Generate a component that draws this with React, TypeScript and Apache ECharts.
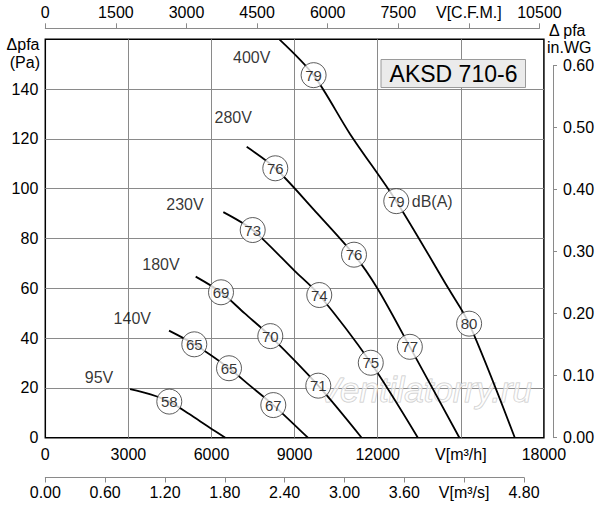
import React, { useEffect, useRef } from 'react';
import * as echarts from 'echarts';

const FONT = '"Liberation Sans", Arial, Helvetica, sans-serif';

// Fan curves: [airflow m³/h, static pressure Pa]
const curve95V = [[3060, 19.5], [3800, 17.4], [4476, 14.5], [5200, 9.5], [5900, 4.3], [6500, 0]];
const curve140V = [[4466, 43], [5379, 37.5], [6632, 27.9], [7400, 20.8], [8231, 13.1], [9480, 0]];
const curve180V = [[5429, 64.7], [6343, 58.4], [7200, 49.9], [8123, 40.8], [9855, 20.9], [11420, 0]];
const curve230V = [[6427, 90.6], [7487, 83.4], [9000, 67.0], [9891, 57.3], [11750, 30.1], [13450, 0]];
const curve280V = [[7270, 116.8], [8303, 108.2], [9700, 91.5], [11144, 73.5], [11986, 60], [13160, 36.5], [14950, 0]];
const curve400V = [[8450, 160], [9686, 145.6], [11000, 122], [12670, 95], [14549, 60], [15300, 45.8], [16950, 0]];

// Noise level marks: [m³/h, Pa, dB(A)]
const dbMarks = [
  [4476, 14.5, 58],
  [5379, 37.5, 65], [6632, 27.9, 65], [8231, 13.1, 67],
  [6343, 58.4, 69], [8123, 40.8, 70], [9855, 20.9, 71],
  [7487, 83.4, 73], [9891, 57.3, 74], [11750, 30.1, 75],
  [8303, 108.2, 76], [11144, 73.5, 76], [13160, 36.5, 77],
  [9686, 145.6, 79], [12670, 95, 79], [15300, 45.8, 80],
];
const dbUnitPoint = [12670, 95];

// Voltage labels: [text, m³/h, Pa]
const voltageLabels: [string, number, number][] = [
  ['95V', 1939, 24.2],
  ['140V', 3140, 47.9],
  ['180V', 4177, 69.4],
  ['230V', 5043, 93.8],
  ['280V', 6785, 128.5],
  ['400V', 7450, 152.6],
];

// Tick labels
const m3hTicks = ['0', '3000', '6000', '9000', '12000', 'V[m³/h]', '18000'];
const cfmTicks = ['0', '1500', '3000', '4500', '6000', '7500', 'V[C.F.M.]', '10500'];
const m3sTicks = ['0.00', '0.60', '1.20', '1.80', '2.40', '3.00', '3.60', 'V[m³/s]', '4.80'];
const paTicks = ['0', '20', '40', '60', '80', '100', '120', '140', ''];
const inwgTicks = ['0.00', '0.10', '0.20', '0.30', '0.40', '0.50', '0.60'];

const M3H_MAX = 18000;
const PA_MAX = 160;
const CFM_TO_M3H = 1.69901;
const INWG_TO_PA = 249.089;

const PLOT_L = 45.3;
const PLOT_T = 39.3;
const PLOT_W = 498.6;
const PLOT_H = 398.4;

export default function App() {
  const ref = useRef<HTMLDivElement>(null);
  useEffect(() => {
    document.body.style.margin = '0';
    const chart = echarts.init(ref.current!, null, { renderer: 'svg' });

    const pxPerM3h = PLOT_W / M3H_MAX;
    const pxPerPa = PLOT_H / PA_MAX;
    const cfmWidth = 10500 * CFM_TO_M3H * pxPerM3h;
    const m3sWidth = 4.8 * 3600 * pxPerM3h;
    const inwgHeight = 0.6 * INWG_TO_PA * pxPerPa;
    const plotBottom = PLOT_T + PLOT_H;

    const labelText = { color: '#000', fontFamily: FONT, fontSize: 16 };
    const grayLine = { color: '#8a8a8a', width: 1 };

    const curveSeries = [curve95V, curve140V, curve180V, curve230V, curve280V, curve400V].map((d, i) => ({
      type: 'line',
      name: 'c' + i,
      xAxisIndex: 0,
      yAxisIndex: 0,
      data: d,
      smooth: 0.3,
      symbol: 'none',
      lineStyle: { color: '#000', width: 1.8 },
      z: 3,
    }));

    const option: any = {
      animation: false,
      backgroundColor: '#fff',
      textStyle: { fontFamily: FONT },
      grid: [
        { left: PLOT_L, top: PLOT_T, width: PLOT_W, height: PLOT_H, show: true, borderColor: '#000', borderWidth: 1.5, backgroundColor: '#fff' },
        { left: PLOT_L, top: 27.3, width: cfmWidth, height: 1 },
        { left: PLOT_L, top: 476.5, width: m3sWidth, height: 1 },
        { left: 553, top: plotBottom - inwgHeight, width: 1, height: inwgHeight },
      ],
      xAxis: [
        {
          gridIndex: 0, type: 'value', min: 0, max: M3H_MAX, interval: 3000, position: 'bottom',
          axisLine: { show: false }, axisTick: { show: false },
          axisLabel: { ...labelText, margin: 9, formatter: (_v: number, i: number) => m3hTicks[i] ?? '' },
          splitLine: { show: true, showMinLine: false, showMaxLine: false, lineStyle: grayLine },
        },
        {
          gridIndex: 1, type: 'value', min: 0, max: 10500, interval: 1500, position: 'top',
          axisLine: { show: true, lineStyle: grayLine },
          axisTick: { show: true, length: 5, lineStyle: grayLine },
          axisLabel: { ...labelText, margin: 7, formatter: (_v: number, i: number) => cfmTicks[i] ?? '' },
          splitLine: { show: false },
        },
        {
          gridIndex: 2, type: 'value', min: 0, max: 4.8, interval: 0.6, position: 'bottom',
          axisLine: { show: true, lineStyle: grayLine },
          axisTick: { show: true, length: 5, lineStyle: grayLine },
          axisLabel: { ...labelText, margin: 7, formatter: (_v: number, i: number) => m3sTicks[i] ?? '' },
          splitLine: { show: false },
        },
        { gridIndex: 3, type: 'value', min: 0, max: 1, show: false },
      ],
      yAxis: [
        {
          gridIndex: 0, type: 'value', min: 0, max: PA_MAX, interval: 20,
          axisLine: { show: false }, axisTick: { show: false },
          axisLabel: { ...labelText, margin: 7, formatter: (_v: number, i: number) => paTicks[i] ?? '' },
          splitLine: { show: true, showMinLine: false, showMaxLine: false, lineStyle: grayLine },
        },
        { gridIndex: 1, type: 'value', min: 0, max: 1, show: false },
        { gridIndex: 2, type: 'value', min: 0, max: 1, show: false },
        {
          gridIndex: 3, type: 'value', min: 0, max: 0.6, interval: 0.1, position: 'right',
          axisLine: { show: true, lineStyle: grayLine },
          axisTick: { show: true, length: 4, lineStyle: grayLine },
          axisLabel: { ...labelText, margin: 9, formatter: (_v: number, i: number) => inwgTicks[i] ?? '' },
          splitLine: { show: false },
        },
      ],
      graphic: [
        {
          type: 'text', z: 1, x: 425, y: 389,
          style: {
            text: 'Ventilatorry.ru', fontFamily: FONT, fontSize: 35, fontStyle: 'italic',
            fill: 'rgba(255,255,255,0.55)', stroke: '#c9c9c9', lineWidth: 1,
            textAlign: 'center', textVerticalAlign: 'middle',
          },
        },
        {
          type: 'rect', z: 5, shape: { x: 381, y: 59.5, width: 144.5, height: 28 },
          style: { fill: '#ebebeb', stroke: '#9a9a9a', lineWidth: 1 },
        },
        {
          type: 'text', z: 6, x: 453.5, y: 74,
          style: { text: 'AKSD 710-6', fontFamily: FONT, fontSize: 23, fill: '#000', textAlign: 'center', textVerticalAlign: 'middle' },
        },
        {
          type: 'text', z: 6, x: 39.5, y: 44,
          style: { text: 'Δpfa', fontFamily: FONT, fontSize: 16, fill: '#000', textAlign: 'right', textVerticalAlign: 'middle' },
        },
        {
          type: 'text', z: 6, x: 40, y: 62,
          style: { text: '(Pa)', fontFamily: FONT, fontSize: 16, fill: '#000', textAlign: 'right', textVerticalAlign: 'middle' },
        },
        {
          type: 'text', z: 6, x: 549, y: 30,
          style: { text: 'Δ pfa', fontFamily: FONT, fontSize: 16, fill: '#000', textAlign: 'left', textVerticalAlign: 'middle' },
        },
        {
          type: 'text', z: 6, x: 547, y: 47.5,
          style: { text: 'in.WG', fontFamily: FONT, fontSize: 16, fill: '#000', textAlign: 'left', textVerticalAlign: 'middle' },
        },
      ],
      series: [
        ...curveSeries,
        {
          type: 'scatter',
          name: 'dB',
          xAxisIndex: 0,
          yAxisIndex: 0,
          data: dbMarks,
          symbol: 'circle',
          symbolSize: 25,
          itemStyle: { color: '#fff', borderColor: '#333', borderWidth: 1 },
          label: {
            show: true, position: 'inside', color: '#000', fontFamily: FONT, fontSize: 15,
            formatter: (p: any) => String(p.value[2]),
          },
          z: 5,
        },
        {
          type: 'scatter',
          name: 'dBunit',
          xAxisIndex: 0,
          yAxisIndex: 0,
          data: [dbUnitPoint],
          symbol: 'circle',
          symbolSize: 25,
          itemStyle: { color: 'rgba(0,0,0,0)' },
          label: {
            show: true, position: 'right', distance: 3, color: '#000', fontFamily: FONT, fontSize: 16,
            formatter: 'dB(A)',
          },
          z: 5,
        },
        {
          type: 'scatter',
          name: 'voltage',
          xAxisIndex: 0,
          yAxisIndex: 0,
          data: voltageLabels.map(([t, x, y]) => ({ value: [x, y], name: t })),
          symbol: 'circle',
          symbolSize: 1,
          itemStyle: { color: 'rgba(0,0,0,0)' },
          label: {
            show: true, position: 'inside', color: '#000', fontFamily: FONT, fontSize: 16,
            formatter: (p: any) => p.name,
          },
          z: 5,
        },
      ],
    };

    chart.setOption(option);
    return () => chart.dispose();
  }, []);

  return <div ref={ref} style={{ position: 'fixed', left: 0, top: 0, width: 600, height: 505 }} />;
}
